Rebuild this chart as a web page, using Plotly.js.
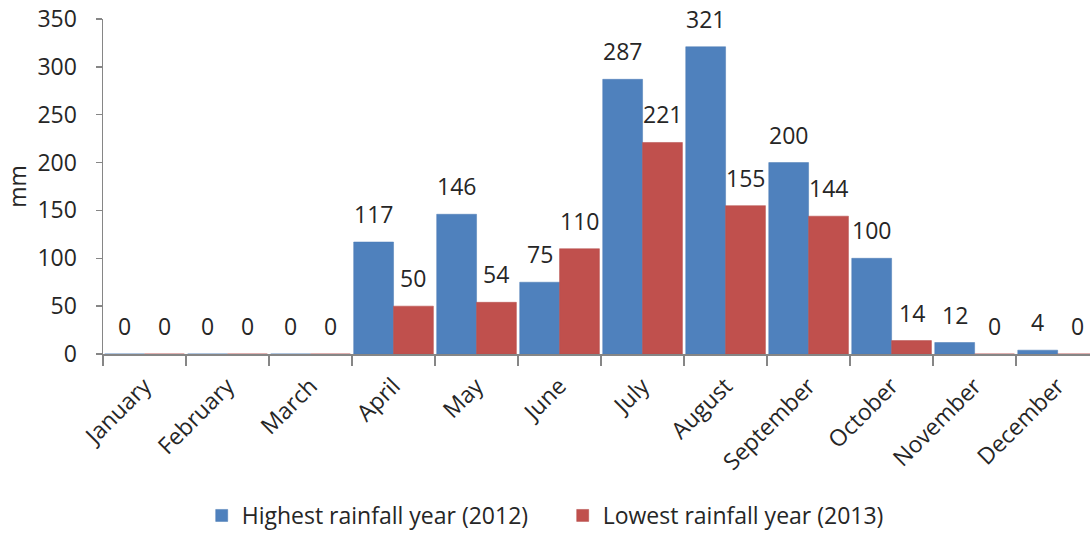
<!DOCTYPE html>
<html>
<head>
<meta charset="utf-8">
<script src="https://cdn.plot.ly/plotly-3.0.1.min.js"></script>
<style>html,body{margin:0;padding:0;background:#fff;}#chart{width:1090px;height:537px;}</style>
</head>
<body>
<div id="chart"></div>
<script>
const months = ["January","February","March","April","May","June","July","August","September","October","November","December"];
const high2012 = [0,0,0,117,146,75,287,321,200,100,12,4];
const low2013 = [0,0,0,50,54,110,221,155,144,14,0,0];
const seriesNames = ["Highest rainfall year (2012)","Lowest rainfall year (2013)"];
const colors = ["#4F81BD","#C0504D"];
const FONT = "Open Sans, sans-serif";
const FS = 23;
const TXT = "#262626";

const traces = [
  {type:"bar", name:seriesNames[0], x:months, y:high2012, marker:{color:colors[0], line:{color:"#4A7AB5", width:0.5}}, hoverinfo:"y"},
  {type:"bar", name:seriesNames[1], x:months, y:low2013, marker:{color:colors[1], line:{color:"#B54B48", width:0.5}}, hoverinfo:"y"}
];

const bargap = 0.04;
const catPx = 83;
const half = catPx*(1-bargap)/4;
const annotations = [];
[high2012, low2013].forEach((arr, s) => {
  arr.forEach((v, i) => {
    annotations.push({x:months[i], y:v, xref:"x", yref:"y", text:String(v), showarrow:false,
      xshift: s===0 ? -half : half, yshift:28, yanchor:"middle", xanchor:"center",
      font:{family:FONT, size:FS, color:TXT}});
  });
});

const layout = {
  width:1090, height:537,
  margin:{l:103, r:0, t:19, b:179},
  paper_bgcolor:"#fff", plot_bgcolor:"#fff",
  barmode:"group", bargap:bargap, bargroupgap:0,
  showlegend:true,
  legend:{orientation:"h", x:0.1, xanchor:"left", y:-0.484, yanchor:"middle",
    font:{family:FONT, size:FS, color:TXT}, itemwidth:30, entrywidth:316, entrywidthmode:"pixels"},
  font:{family:FONT, size:FS, color:TXT},
  xaxis:{type:"category", range:[-0.5, 11.39], tickangle:-45, tickson:"boundaries",
    ticks:"outside", ticklen:10, tickcolor:"#868686", tickwidth:1.5,
    showline:true, linecolor:"#868686", linewidth:1.5, showgrid:false, zeroline:false,
    ticklabelstandoff:8,
    tickfont:{family:FONT, size:FS, color:TXT}, automargin:false},
  yaxis:{range:[0,350], dtick:50, tick0:0, ticks:"outside", ticklen:6, tickcolor:"#868686", tickwidth:1.5,
    showline:true, linecolor:"#868686", linewidth:1.5, showgrid:false, zeroline:false,
    ticklabelstandoff:14, tickfont:{family:FONT, size:FS, color:TXT},
    title:{text:"mm", font:{family:FONT, size:FS, color:TXT}, standoff:4}, automargin:false},
  annotations:annotations
};

Plotly.newPlot("chart", traces, layout, {displayModeBar:false, staticPlot:true});
</script>
</body>
</html>
